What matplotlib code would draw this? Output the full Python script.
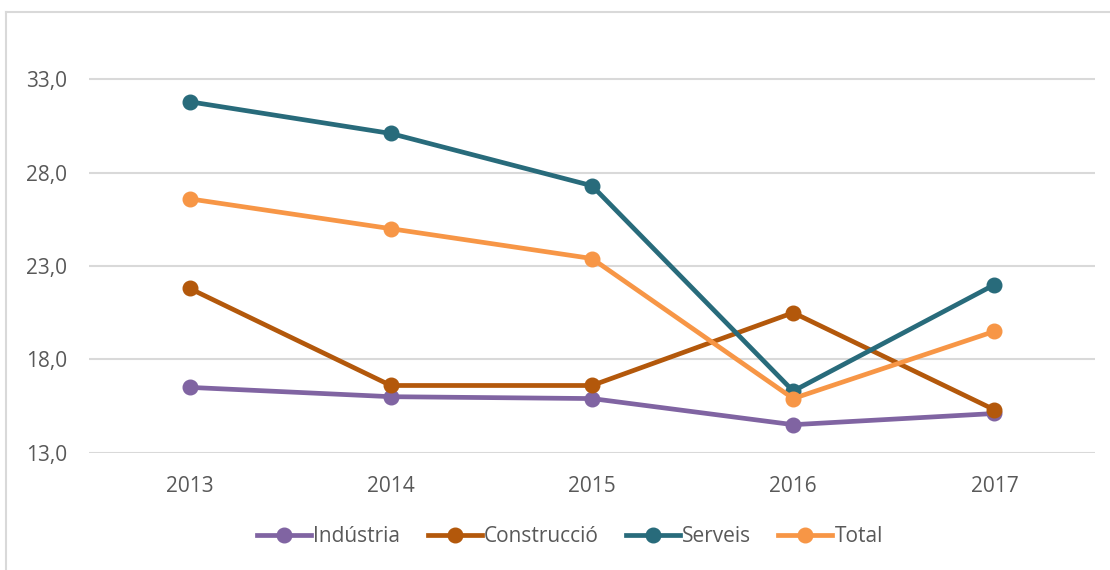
import matplotlib
matplotlib.use("Agg")
import matplotlib.pyplot as plt
from matplotlib.lines import Line2D

years = ["2013", "2014", "2015", "2016", "2017"]
industria = [16.5, 16.0, 15.9, 14.5, 15.1]
construccio = [21.8, 16.6, 16.6, 20.5, 15.3]
serveis = [31.8, 30.1, 27.3, 16.3, 22.0]
total = [26.6, 25.0, 23.4, 15.9, 19.5]
series_names = ["Indústria", "Construcció", "Serveis", "Total"]
yticks = [13.0, 18.0, 23.0, 28.0, 33.0]

colors = ["#8064A2", "#B3580B", "#286B7B", "#F79646"]

plt.rcParams['font.family'] = ['Open Sans', 'DejaVu Sans']

fig = plt.figure(figsize=(11.1, 5.7), dpi=100)
ax = fig.add_axes([89/1110, 1 - 452.7/570, (1095-89)/1110, (452.7-14)/570])

x = list(range(len(years)))
for vals, name, c in zip([industria, construccio, serveis, total], series_names, colors):
    ax.plot(x, vals, color=c, lw=3.4, marker='o', markersize=10.5, label=name,
            solid_capstyle='round', zorder=3)

ax.set_xlim(-0.5, 4.5)
ax.set_ylim(13.0, 36.5)
ax.set_yticks(yticks)
ax.set_yticklabels([f"{v:.1f}".replace('.', ',') for v in yticks])
ax.set_xticks(x)
ax.set_xticklabels(years)
ax.grid(axis='y', color='#d9d9d9', lw=1.5, zorder=0)
ax.set_axisbelow(True)
for s in ax.spines.values():
    s.set_visible(False)
ax.tick_params(axis='both', length=0, labelsize=15, colors='#595959')
ax.tick_params(axis='y', pad=16)
ax.tick_params(axis='x', pad=17)

handles = [Line2D([0], [0], color=c, lw=3.4, marker='o', markersize=10.5) for c in colors]
leg = fig.legend(handles, series_names, loc='center', bbox_to_anchor=(570/1110, 1 - 537/570),
                 ncol=4, frameon=False, fontsize=15, handlelength=2.6, handletextpad=0.1,
                 columnspacing=1.3, labelcolor='#595959')

# chart area border (left and top visible)
fig.add_artist(Line2D([6/1110, 6/1110], [0, 1 - 12/570], color='#d9d9d9', lw=1.5,
                      transform=fig.transFigure))
fig.add_artist(Line2D([6/1110, 1], [1 - 12/570, 1 - 12/570], color='#d9d9d9', lw=1.5,
                      transform=fig.transFigure))

fig.savefig("out.png", dpi=100, facecolor='white')
